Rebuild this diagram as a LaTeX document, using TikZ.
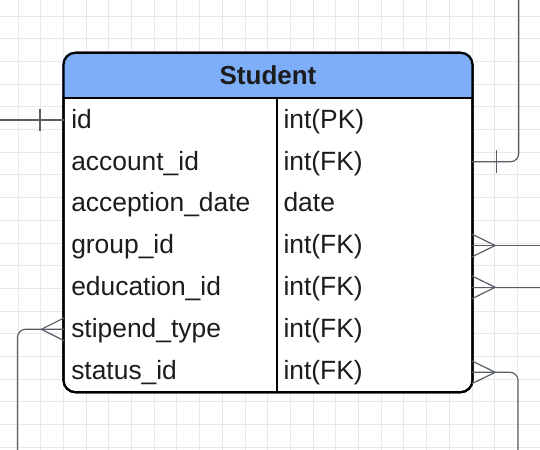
\documentclass[tikz,border=0pt]{standalone}
\usepackage{fontspec}
\setmainfont{Liberation Sans}
\usetikzlibrary{calc}
\definecolor{gridc}{HTML}{E8E8E8}
\definecolor{headc}{HTML}{7EAEF7}
\definecolor{connc}{HTML}{5A5E66}
\definecolor{txtc}{HTML}{1C1C1C}
\tikzset{
  gridline/.style={draw=gridc, line width=0.7pt},
  conn/.style={draw=connc, line width=0.9pt},
  fieldtxt/.style={anchor=base west, inner sep=0pt, text=txtc, font=\fontsize{19.8pt}{21pt}\selectfont},
  titletxt/.style={anchor=center, inner sep=0pt, text=txtc, font=\bfseries\fontsize{19.5pt}{21pt}\selectfont},
  tablebox/.style={draw=black, line width=1.6pt, rounded corners=9pt, minimum width=306.8pt, minimum height=254.6pt, inner sep=0pt}
}
\begin{document}
\begin{tikzpicture}[x=0.75pt, y=-0.75pt]
\useasboundingbox (0,0) rectangle (540,450);
% grid
\foreach \k in {0,...,23} {
  \draw[gridline] ({18+22.7*\k},0) -- ({18+22.7*\k},450);
}
\foreach \k in {0,...,19} {
  \draw[gridline] (0,{16+22.7*\k}) -- (540,{16+22.7*\k});
}
% table
\node[tablebox, fill=white] (student) at (268,222.5) {};
\begin{scope}
  \clip[rounded corners=9pt] (student.north west) rectangle (student.south east);
  \fill[headc] (student.north west) rectangle (472.7,98.3);
\end{scope}
\draw[black, line width=1.6pt] (63.3,98.3) -- (472.7,98.3);
\draw[black, line width=1.6pt] (276.7,98.3) -- (276.7,392.3);
\node[tablebox] (studentborder) at (268,222.5) {};
\node[titletxt] (title) at (268,75.5) {Student};
% fields
\node[fieldtxt] (n1) at (71,128.3) {id};
\node[fieldtxt] (n2) at (71,170.1) {account\_id};
\node[fieldtxt] (n3) at (71,211.9) {acception\_date};
\node[fieldtxt] (n4) at (71,253.7) {group\_id};
\node[fieldtxt] (n5) at (71,295.5) {education\_id};
\node[fieldtxt] (n6) at (71,337.3) {stipend\_type};
\node[fieldtxt] (n7) at (71,379.1) {status\_id};
\node[fieldtxt] (t1) at (283.3,128.3) {int(PK)};
\node[fieldtxt] (t2) at (283.3,170.1) {int(FK)};
\node[fieldtxt] (t3) at (283.3,211.9) {date};
\node[fieldtxt] (t4) at (283.3,253.7) {int(FK)};
\node[fieldtxt] (t5) at (283.3,295.5) {int(FK)};
\node[fieldtxt] (t6) at (283.3,337.3) {int(FK)};
\node[fieldtxt] (t7) at (283.3,379.1) {int(FK)};
% connector end points
\coordinate (idL) at (64.3,120);
\coordinate (idEnd) at (0,120);
\coordinate (accR) at (471.7,161.7);
\coordinate (accEnd) at (518.7,0);
\coordinate (grpR) at (471.7,245.5);
\coordinate (grpEnd) at (540,245.5);
\coordinate (eduR) at (471.7,287.3);
\coordinate (eduEnd) at (540,287.3);
\coordinate (staR) at (471.7,372.3);
\coordinate (staEnd) at (518,450);
\coordinate (stiL) at (64.3,329.3);
\coordinate (stiEnd) at (17.5,450);
% id: one
\draw[conn] (idEnd) -- (idL);
\draw[conn] (40,108.5) -- (40,131);
% account: one
\draw[conn, rounded corners=6pt] (accR) -- (accEnd |- accR) -- (accEnd);
\draw[conn] (496.7,150.3) -- (496.7,173.3);
% group: many
\draw[conn] (grpR) -- (grpEnd);
\draw[conn] ($(grpR)+(0,-11.5)$) -- ($(grpR)+(23.5,0)$) -- ($(grpR)+(0,11.5)$);
% education: many
\draw[conn] (eduR) -- (eduEnd);
\draw[conn] ($(eduR)+(0,-11.5)$) -- ($(eduR)+(23.5,0)$) -- ($(eduR)+(0,11.5)$);
% status: many
\draw[conn, rounded corners=6pt] (staR) -- (staEnd |- staR) -- (staEnd);
\draw[conn] ($(staR)+(0,-11.5)$) -- ($(staR)+(23.5,0)$) -- ($(staR)+(0,11.5)$);
% stipend: many (left)
\draw[conn, rounded corners=6pt] (stiL) -- (stiEnd |- stiL) -- (stiEnd);
\draw[conn] ($(stiL)+(0,-11.5)$) -- ($(stiL)+(-23,0)$) -- ($(stiL)+(0,11.5)$);
\end{tikzpicture}
\end{document}
